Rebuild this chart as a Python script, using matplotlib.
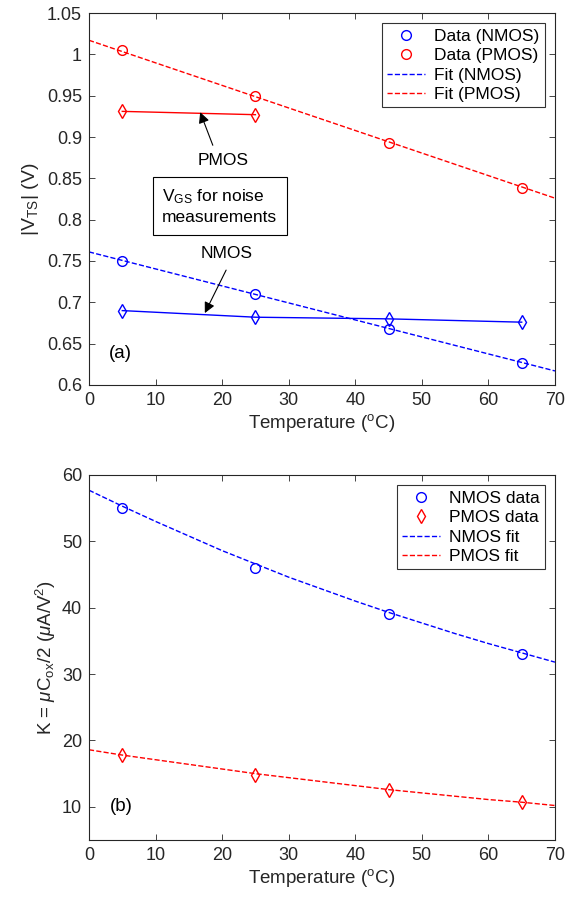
import matplotlib
matplotlib.use("Agg")
import matplotlib.pyplot as plt

plt.rcParams['font.family'] = ['Liberation Sans', 'DejaVu Sans']
plt.rcParams['mathtext.fontset'] = 'custom'
plt.rcParams['mathtext.rm'] = 'Liberation Sans'
plt.rcParams['mathtext.it'] = 'Liberation Sans:italic'
plt.rcParams['mathtext.cal'] = 'Liberation Sans'

# ---- data ----
temps = [5, 25, 45, 65]
vts_nmos = [0.750, 0.710, 0.668, 0.626]
vts_pmos = [1.005, 0.950, 0.893, 0.838]
fit_x = [0, 70]
fit_vts_nmos = [0.761, 0.617]
fit_vts_pmos = [1.017, 0.826]
vgs_nmos_t = [5, 25, 45, 65]
vgs_nmos = [0.690, 0.682, 0.680, 0.676]
vgs_pmos_t = [5, 25]
vgs_pmos = [0.931, 0.927]

k_nmos = [55.0, 46.0, 39.0, 33.0]
k_pmos = [17.8, 14.8, 12.5, 10.8]
kfit_x = [0, 5, 10, 15, 20, 25, 30, 35, 40, 45, 50, 55, 60, 65, 70]
kfit_nmos = [57.7, 55.3, 53.0, 50.8, 48.6, 46.6, 44.6, 42.8, 41.0,
             39.3, 37.7, 36.1, 34.6, 33.2, 31.8]
kfit_pmos = [18.6, 17.8, 17.1, 16.4, 15.7, 15.0, 14.4, 13.8, 13.2,
             12.6, 12.1, 11.6, 11.1, 10.7, 10.2]

xticks = [0, 10, 20, 30, 40, 50, 60, 70]
yticks_a = [0.6, 0.65, 0.7, 0.75, 0.8, 0.85, 0.9, 0.95, 1.0, 1.05]
yticklabels_a = ['0.6', '0.65', '0.7', '0.75', '0.8', '0.85', '0.9', '0.95', '1', '1.05']
yticks_b = [10, 20, 30, 40, 50, 60]

TFS = 13     # tick labels
LFS = 13.5   # axis labels
GFS = 12.5   # legend / annotations
AXC = '#262626'

fig = plt.figure(figsize=(5.76, 8.97), dpi=100)
ax1 = fig.add_axes([0.1545, 0.5708, 0.809, 0.4147])
ax2 = fig.add_axes([0.1545, 0.0635, 0.809, 0.407])

def style(ax):
    ax.tick_params(direction='in', top=True, right=True, labelsize=TFS,
                   colors=AXC, length=4, width=0.6, pad=5)
    for s in ax.spines.values():
        s.set_color(AXC)
        s.set_linewidth(0.8)

mk = dict(markersize=7, markerfacecolor='none', markeredgewidth=1.0)

# ---- panel (a) ----
ax1.plot(temps, vts_nmos, 'o', color='b', label='Data (NMOS)', **mk)
ax1.plot(temps, vts_pmos, 'o', color='r', label='Data (PMOS)', **mk)
ax1.plot(fit_x, fit_vts_nmos, '--', color='b', lw=1.0, label='Fit (NMOS)')
ax1.plot(fit_x, fit_vts_pmos, '--', color='r', lw=1.0, label='Fit (PMOS)')
ax1.plot(vgs_nmos_t, vgs_nmos, 'd-', color='b', lw=1.0, **mk)
ax1.plot(vgs_pmos_t, vgs_pmos, 'd-', color='r', lw=1.0, **mk)

ax1.set_xlim(0, 70)
ax1.set_ylim(0.6, 1.05)
ax1.set_xticks(xticks)
ax1.set_yticks(yticks_a)
ax1.set_yticklabels(yticklabels_a)
style(ax1)
ax1.set_xlabel(r'Temperature ($^{\rm o}$C)', fontsize=LFS, color=AXC, labelpad=2)
ax1.set_ylabel(r'|V$_{\rm TS}$| (V)', fontsize=LFS + 0.5, color=AXC, labelpad=4)

leg1 = ax1.legend(loc='upper right', fontsize=GFS, frameon=True, fancybox=False,
                  edgecolor='k', handlelength=2.2, borderaxespad=0.6,
                  labelspacing=0.25, handletextpad=0.5, borderpad=0.3)
leg1.get_frame().set_linewidth(0.8)

arrowprops = dict(arrowstyle='-|>', color='k', lw=0.8, mutation_scale=16,
                  shrinkA=0, shrinkB=0)
ax1.annotate('', xy=(16.7, 0.930), xytext=(18.6, 0.890), arrowprops=arrowprops)
ax1.text(20.1, 0.871, 'PMOS', ha='center', va='center', fontsize=GFS)
ax1.annotate('', xy=(17.4, 0.687), xytext=(20.6, 0.739), arrowprops=arrowprops)
ax1.text(20.7, 0.759, 'NMOS', ha='center', va='center', fontsize=GFS)
ax1.text(11.0, 0.816, r'V$_{\rm GS}$ for noise' + '\nmeasurements', ha='left',
         va='center', fontsize=GFS, linespacing=1.3,
         bbox=dict(boxstyle='square,pad=0.55', fc='white', ec='k', lw=0.8))
ax1.text(4.7, 0.638, '(a)', ha='center', va='center', fontsize=13.5)

# ---- panel (b) ----
ax2.plot(temps, k_nmos, 'o', color='b', label='NMOS data', **mk)
ax2.plot(temps, k_pmos, 'd', color='r', label='PMOS data', **mk)
ax2.plot(kfit_x, kfit_nmos, '--', color='b', lw=1.0, label='NMOS fit')
ax2.plot(kfit_x, kfit_pmos, '--', color='r', lw=1.0, label='PMOS fit')
ax2.set_xlim(0, 70)
ax2.set_ylim(5, 60)
ax2.set_xticks(xticks)
ax2.set_yticks(yticks_b)
style(ax2)
ax2.set_xlabel(r'Temperature ($^{\rm o}$C)', fontsize=LFS, color=AXC, labelpad=2)
ax2.set_ylabel(r'K = $\mu$C$_{\rm ox}$/2 ($\mu$A/V$^2$)', fontsize=LFS, color=AXC,
               labelpad=3)
leg2 = ax2.legend(loc='upper right', fontsize=GFS, frameon=True, fancybox=False,
                  edgecolor='k', handlelength=2.2, borderaxespad=0.6,
                  labelspacing=0.25, handletextpad=0.5, borderpad=0.3)
leg2.get_frame().set_linewidth(0.8)
ax2.text(4.8, 10.0, '(b)', ha='center', va='center', fontsize=13.5)

fig.savefig('out.png', dpi=100)
